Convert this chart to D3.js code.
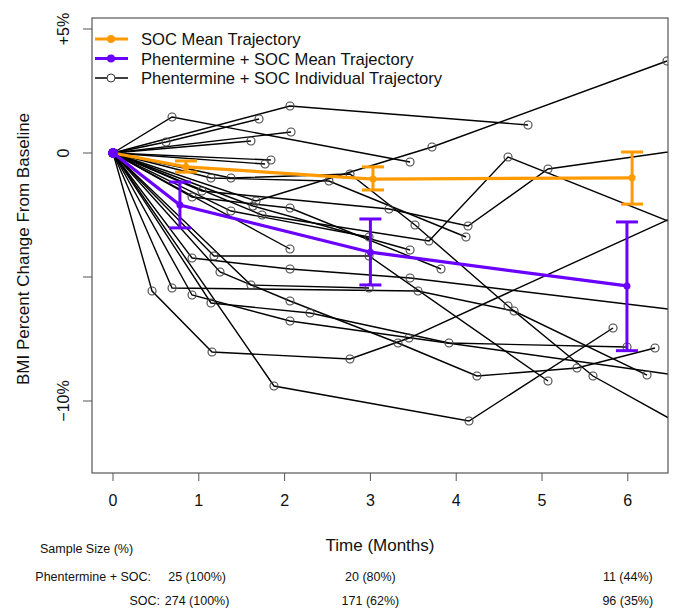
<!DOCTYPE html>
<html>
<head>
<meta charset="utf-8">
<script src="https://cdn.jsdelivr.net/npm/d3@7"></script>
<style>
  body { margin: 0; background: #fff; }
  text { font-family: "Liberation Sans", Arial, sans-serif; fill: #111; }
</style>
</head>
<body>
<svg id="chart" width="676" height="608"></svg>
<script>
// individual trajectories (Phentermine + SOC), months and % change per patient
var indivTime = [
  [0, 0.688, 3.462],
  [0, 2.063, 4.837],
  [0, 0.618, 1.702],
  [0, 1.608],
  [0, 2.075],
  [0, 1.667, 3.718, 6.457],
  [0, 1.876, 4.149, 5.828],
  [0, 0.455, 1.154, 2.762, 3.450, 6.84],
  [0, 0.688, 3.555, 4.674, 6.224],
  [0, 1.177, 2.984, 5.070],
  [0, 0.921, 2.063, 6.8],
  [0, 1.142, 2.296, 3.916, 5.991],
  [0, 1.247, 2.063, 3.322, 4.242, 5.408, 6.317],
  [0, 1.375, 2.762, 3.520, 4.604, 5.594, 6.85],
  [0, 1.142, 2.517, 4.114],
  [0, 1.037, 3.217, 4.138, 5.070, 6.8],
  [0, 0.921, 2.063, 3.462, 6.8],
  [0, 0.921, 2.063, 3.823],
  [0, 1.632, 3.462],
  [0, 1.375, 2.984],
  [0, 1.737, 3.683, 4.604, 6.8],
  [0, 1.608, 2.984],
  [0, 1.841],
  [0, 1.772],
  [0, 2.063]
];
var indivChange = [
  [0, 1.452, -0.363],
  [0, 1.895, 1.129],
  [0, 0.444, 1.371],
  [0, 0.484],
  [0, 0.847],
  [0, -1.935, 0.242, 3.71],
  [0, -9.395, -10.806, -7.056],
  [0, -5.565, -8.024, -8.306, -7.460, -2.1],
  [0, -5.444, -5.565, -6.371, -8.952],
  [0, -4.153, -4.153, -9.194],
  [0, -5.726, -6.774, -9.07],
  [0, -6.048, -6.452, -7.661, -7.823],
  [0, -4.798, -5.968, -7.661, -8.992, -8.669, -7.863],
  [0, -1.008, -0.847, -2.903, -6.169, -8.992, -11.4],
  [0, -1.008, -1.129, -3.387],
  [0, -1.532, -2.258, -2.944, -0.645, 0.2],
  [0, -4.234, -4.677, -5.040, -6.43],
  [0, -1.774, -2.218, -4.677],
  [0, -2.137, -3.911],
  [0, -2.339, -3.387],
  [0, -2.5, -3.548, -0.161, -3.2],
  [0, -5.323, -5.444],
  [0, -0.282],
  [0, -0.444],
  [0, -3.871]
];

// mean trajectories with error bars
var socTime = [0, 0.85, 3.03, 6.05];
var socMean = [0, -0.56, -1.05, -1.0];
var socLow = [0, -0.77, -1.49, -2.06];
var socHigh = [0, -0.32, -0.56, 0.04];

var phenTime = [0, 0.78, 3.0, 5.99];
var phenMean = [0, -2.1, -4.0, -5.36];
var phenLow = [0, -3.02, -5.32, -7.97];
var phenHigh = [0, -1.17, -2.66, -2.78];

var xTicks = [0, 1, 2, 3, 4, 5, 6];
var yTicks = [5, 0, -5, -10];
var yTickLabels = ["+5%", "0", "", "\u221210%"];

var sizeGroups = ["Phentermine + SOC:", "SOC:"];
var sizeTimes = [0.98, 3, 6];
var sizePhen = ["25 (100%)", "20 (80%)", "11 (44%)"];
var sizeSoc = ["274 (100%)", "171 (62%)", "96 (35%)"];

var legendLabels = ["SOC Mean Trajectory", "Phentermine + SOC Mean Trajectory", "Phentermine + SOC Individual Trajectory"];

var orange = "#FF9A00", purple = "#6A00FF";

var svg = d3.select("#chart");
var plotL = 92, plotR = 668, plotT = 18, plotB = 473;

var x = d3.scaleLinear().domain([-0.2448, 6.4685]).range([plotL, plotR]);
var y = d3.scaleLinear().domain([-12.903, 5.444]).range([plotB, plotT]);

svg.append("clipPath").attr("id", "clip")
  .append("rect").attr("x", plotL).attr("y", plotT)
  .attr("width", plotR - plotL).attr("height", plotB - plotT);

var plot = svg.append("g").attr("clip-path", "url(#clip)");

var line = d3.line().x(function(d) { return x(d[0]); }).y(function(d) { return y(d[1]); });

var patients = indivTime.map(function(t, i) {
  return t.map(function(m, j) { return [m, indivChange[i][j]]; });
});

plot.selectAll(".indiv")
  .data(patients)
  .enter().append("path")
    .attr("class", "indiv")
    .attr("d", line)
    .attr("fill", "none")
    .attr("stroke", "#000")
    .attr("stroke-width", 1.4);

plot.selectAll(".pt")
  .data(d3.merge(patients))
  .enter().append("circle")
    .attr("class", "pt")
    .attr("cx", function(d) { return x(d[0]); })
    .attr("cy", function(d) { return y(d[1]); })
    .attr("r", 4)
    .attr("fill", "none")
    .attr("stroke", "#444")
    .attr("stroke-width", 1.1);

function drawMean(times, means, lows, highs, color) {
  var pts = times.map(function(t, i) { return [t, means[i]]; });
  plot.append("path")
    .attr("d", line(pts))
    .attr("fill", "none")
    .attr("stroke", color)
    .attr("stroke-width", 3.2);
  times.forEach(function(t, i) {
    if (i === 0) return;
    var cx = x(t);
    plot.append("line")
      .attr("x1", cx).attr("x2", cx)
      .attr("y1", y(lows[i])).attr("y2", y(highs[i]))
      .attr("stroke", color).attr("stroke-width", 3);
    [lows[i], highs[i]].forEach(function(v) {
      plot.append("line")
        .attr("x1", cx - 11).attr("x2", cx + 11)
        .attr("y1", y(v)).attr("y2", y(v))
        .attr("stroke", color).attr("stroke-width", 3);
    });
    plot.append("circle")
      .attr("cx", cx).attr("cy", y(means[i]))
      .attr("r", 3.5).attr("fill", color);
  });
}

drawMean(socTime, socMean, socLow, socHigh, orange);
drawMean(phenTime, phenMean, phenLow, phenHigh, purple);

plot.append("circle")
  .attr("cx", x(0)).attr("cy", y(0))
  .attr("r", 5).attr("fill", purple);

// box
svg.append("rect")
  .attr("x", plotL).attr("y", plotT)
  .attr("width", plotR - plotL).attr("height", plotB - plotT)
  .attr("fill", "none").attr("stroke", "#555").attr("stroke-width", 1.2);

// x axis
var xAxis = svg.append("g");
xTicks.forEach(function(t) {
  xAxis.append("line")
    .attr("x1", x(t)).attr("x2", x(t))
    .attr("y1", plotB).attr("y2", plotB + 8)
    .attr("stroke", "#555");
  xAxis.append("text")
    .attr("x", x(t)).attr("y", 506)
    .attr("text-anchor", "middle")
    .style("font-size", "16px")
    .text(t);
});

// y axis
var yAxis = svg.append("g");
yTicks.forEach(function(v, i) {
  yAxis.append("line")
    .attr("x1", plotL - 9).attr("x2", plotL)
    .attr("y1", y(v)).attr("y2", y(v))
    .attr("stroke", "#555");
  yAxis.append("text")
    .attr("transform", "translate(69," + y(v) + ") rotate(-90)")
    .attr("text-anchor", "middle")
    .style("font-size", "16px")
    .text(yTickLabels[i]);
});

svg.append("text")
  .attr("transform", "translate(29,249) rotate(-90)")
  .attr("text-anchor", "middle")
  .style("font-size", "17px")
  .text("BMI Percent Change From Baseline");

svg.append("text")
  .attr("x", 380).attr("y", 551)
  .attr("text-anchor", "middle")
  .style("font-size", "17px")
  .text("Time (Months)");

// sample size table
svg.append("text")
  .attr("x", 40).attr("y", 553)
  .style("font-size", "12.5px")
  .text("Sample Size (%)");

var rowY = [581, 605];
var rowRight = [151, 160];
[sizePhen, sizeSoc].forEach(function(row, r) {
  svg.append("text")
    .attr("x", rowRight[r]).attr("y", rowY[r])
    .attr("text-anchor", "end")
    .style("font-size", "12.5px")
    .text(sizeGroups[r]);
  row.forEach(function(s, c) {
    svg.append("text")
      .attr("x", x(sizeTimes[c])).attr("y", rowY[r])
      .attr("text-anchor", "middle")
      .style("font-size", "12.5px")
      .text(s);
  });
});

// legend
var legColors = [orange, purple, "#000"];
var legend = svg.append("g");
legendLabels.forEach(function(lab, i) {
  var ly = 39 + i * 19.5;
  legend.append("line")
    .attr("x1", 95).attr("x2", 128)
    .attr("y1", ly).attr("y2", ly)
    .attr("stroke", legColors[i])
    .attr("stroke-width", i < 2 ? 3.2 : 1.6);
  if (i < 2) {
    legend.append("circle").attr("cx", 111).attr("cy", ly).attr("r", 4).attr("fill", legColors[i]);
  } else {
    legend.append("circle").attr("cx", 111).attr("cy", ly).attr("r", 4)
      .attr("fill", "#fff").attr("stroke", "#333");
  }
  legend.append("text")
    .attr("x", 141).attr("y", ly + 6)
    .style("font-size", "16.6px")
    .text(lab);
});
</script>
</body>
</html>
